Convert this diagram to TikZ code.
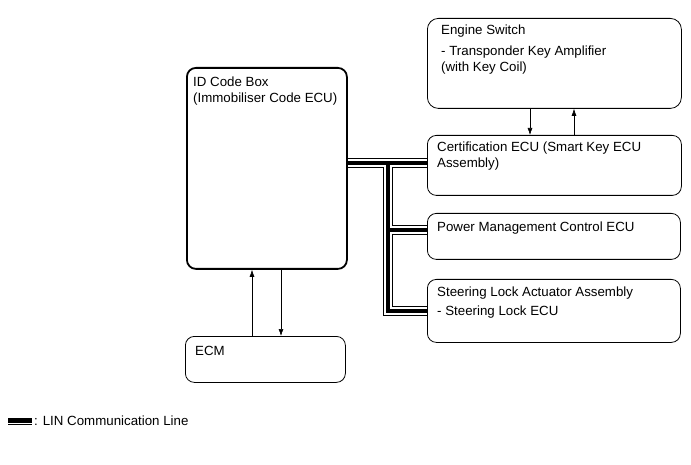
\documentclass[tikz,border=0pt]{standalone}
\usepackage{fontspec}
\setmainfont{Liberation Sans}
\usetikzlibrary{arrows.meta}

\begin{document}
\begin{tikzpicture}[x=1pt,y=-1pt,
    box/.style={draw,rounded corners=9pt,line width=0.8pt,anchor=north west,inner sep=0pt},
    txt/.style={anchor=base west,align=left,inner sep=0pt,font=\fontsize{13.3}{16}\selectfont},
    sig/.style={-{Latex[length=7pt,width=5pt]},line width=0.6pt},
    lin/.style={line width=9.5pt,postaction={draw,white,line width=7.5pt},postaction={draw,black,line width=4.8pt}},
    linkey/.style={line width=7pt,postaction={draw,white,line width=5pt},postaction={draw,black,line width=3.4pt}}]
        \useasboundingbox (0,0) rectangle (691,465);
        % boxes
        \node[box,line width=1.8pt,minimum width=160pt,minimum height=201pt] (id) at (186,67) {};
        \node[box,minimum width=160pt,minimum height=46pt] (ecm) at (185,336) {};
        \node[box,rounded corners=11pt,minimum width=254pt,minimum height=90pt] (eng) at (427,18) {};
        \node[box,minimum width=254pt,minimum height=60pt] (cert) at (427,135) {};
        \node[box,minimum width=253pt,minimum height=46pt] (pwr) at (427,213) {};
        \node[box,minimum width=253pt,minimum height=63pt] (steer) at (427,279) {};
        % texts (base = last line)
        \node[txt] (idtxt) at ([shift={(7,36)}]id.north west) {ID Code Box\\(Immobiliser Code ECU)};
        \node[txt] (ecmtxt) at ([shift={(10,19)}]ecm.north west) {ECM};
        \node[txt] (engtxt) at ([shift={(14,54)}]eng.north west) {Engine Switch\\[5pt]- Transponder Key Amplifier\\(with Key Coil)};
        \node[txt] (certtxt) at ([shift={(10,33)}]cert.north west) {Certification ECU (Smart Key ECU\\Assembly)};
        \node[txt] (pwrtxt) at ([shift={(10,19)}]pwr.north west) {Power Management Control ECU};
        \node[txt] (steertxt) at ([shift={(10,37)}]steer.north west) {Steering Lock Actuator Assembly\\[3pt]- Steering Lock ECU};
        % signal lines
        \draw[sig] ([xshift=67pt]ecm.north west) coordinate (u1) -- (u1 |- id.south);
        \draw[sig] ([xshift=95pt]id.south west) coordinate (d1) -- (d1 |- ecm.north);
        \draw[sig] ([xshift=103pt]eng.south west) coordinate (d2) -- (d2 |- cert.north);
        \draw[sig] ([xshift=147pt]cert.north west) coordinate (u2) -- (u2 |- eng.south);
        % LIN bus
        \coordinate (j1) at (388,163); \coordinate (j2) at (388,230); \coordinate (j3) at (388,311);
        \draw[lin] (j1 -| id.east) -- (j1 -| cert.west) (j1) -- (j3) -- (j3 -| steer.west) (j2) -- (j2 -| pwr.west);
        % legend
        \coordinate (lg1) at (8,421); \coordinate (lg2) at (32,421);
        \draw[linkey] (lg1) -- (lg2);
        \node[txt] (lgtxt) at (34,425.5) {: LIN Communication Line};
    \end{tikzpicture}
\end{document}
